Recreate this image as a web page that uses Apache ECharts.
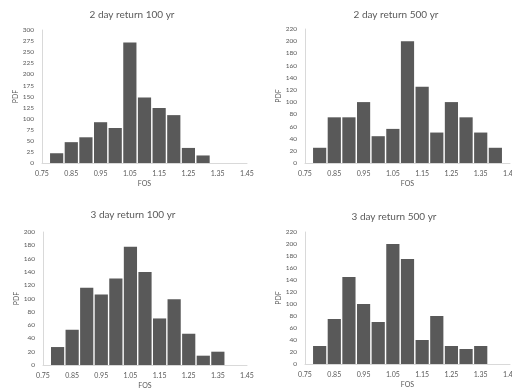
<!DOCTYPE html>
<html><head><meta charset="utf-8">
<script src="https://cdn.jsdelivr.net/npm/echarts@6/dist/echarts.min.js"></script>
<style>html,body{margin:0;padding:0;background:#fff}#c{width:512px;height:391px}</style>
</head><body><div id="c"></div>
<script>
// FOS bin centres (width 0.05)
const titles = ['2 day return 100 yr','2 day return 500 yr','3 day return 100 yr','3 day return 500 yr'];
const fos100_2 = [0.80,0.85,0.90,0.95,1.00,1.05,1.10,1.15,1.20,1.25,1.30];
const pdf100_2 = [22,47,58,92,79,272,148,124,108,34,17];
const fos500_2 = [0.80,0.85,0.90,0.95,1.00,1.05,1.10,1.15,1.20,1.25,1.30,1.35,1.40];
const pdf500_2 = [25,75,75,100,44,56,200,125,50,100,75,50,25];
const fos100_3 = [0.80,0.85,0.90,0.95,1.00,1.05,1.10,1.15,1.20,1.25,1.30,1.35];
const pdf100_3 = [27,53,116,106,130,178,140,70,99,47,14,20];
const fos500_3 = [0.80,0.85,0.90,0.95,1.00,1.05,1.10,1.15,1.20,1.25,1.30,1.35];
const pdf500_3 = [30,75,145,100,70,200,175,40,80,30,25,30];
const yMax = [300,220,200,220];
const yStep = [25,20,20,20];
const xTickLabels = ['0.75','0.85','0.95','1.05','1.15','1.25','1.35','1.45'];
const X0 = 0.75, BIN = 0.05;

const fosSets = [fos100_2,fos500_2,fos100_3,fos500_3];
const pdfSets = [pdf100_2,pdf500_2,pdf100_3,pdf500_3];

const grids = [
  {left:42, top:30, width:205, height:133, nameGap:22, titleX:132, titleY:15},
  {left:305, top:29, width:205, height:134, nameGap:21, titleX:396, titleY:15},
  {left:43, top:232, width:204, height:133, nameGap:17, titleX:133, titleY:215},
  {left:305, top:232, width:205, height:132, nameGap:21, titleX:394, titleY:217}
];
const txt = '#595959', font = 'Lato, "Open Sans", sans-serif';

const option = {
  animation:false,
  grid: grids.map(g=>({left:g.left, top:g.top, width:g.width, height:g.height,
    containLabel:false, outerBoundsMode:'none'})),
  graphic: grids.map((g,i)=>({type:'text', x:g.titleX, y:g.titleY,
    style:{text:titles[i], fill:txt, font:'10px '+font, align:'center', verticalAlign:'middle'}})),
  xAxis: grids.map((g,i)=>({type:'value', gridIndex:i, min:0, max:14, interval:2,
    name:'FOS', nameLocation:'middle', nameGap:17,
    nameTextStyle:{color:txt, fontSize:7, fontFamily:font},
    axisLine:{show:true, lineStyle:{color:'#d9d9d9'}}, axisTick:{show:false}, splitLine:{show:false},
    axisLabel:{color:txt, fontSize:7, fontFamily:font, margin:7, hideOverlap:false,
      formatter:v=>xTickLabels[Math.round(v/2)]}})),
  yAxis: grids.map((g,i)=>({type:'value', gridIndex:i, min:0, max:yMax[i], interval:yStep[i],
    name:'PDF', nameLocation:'middle', nameGap:g.nameGap,
    nameTextStyle:{color:txt, fontSize:7, fontFamily:font},
    axisLine:{show:true, lineStyle:{color:'#d9d9d9'}}, axisTick:{show:false}, splitLine:{show:false},
    axisLabel:{color:txt, fontSize:6.5, fontFamily:font, margin:8}})),
  series: fosSets.map((f,i)=>({type:'bar', xAxisIndex:i, yAxisIndex:i,
    barWidth:13.2, itemStyle:{color:'#595959'},
    data:f.map((x,j)=>[(x-X0)/BIN, pdfSets[i][j]])}))
};
const chart = echarts.init(document.getElementById('c'), null, {renderer:'canvas'});
chart.setOption(option);
</script></body></html>
